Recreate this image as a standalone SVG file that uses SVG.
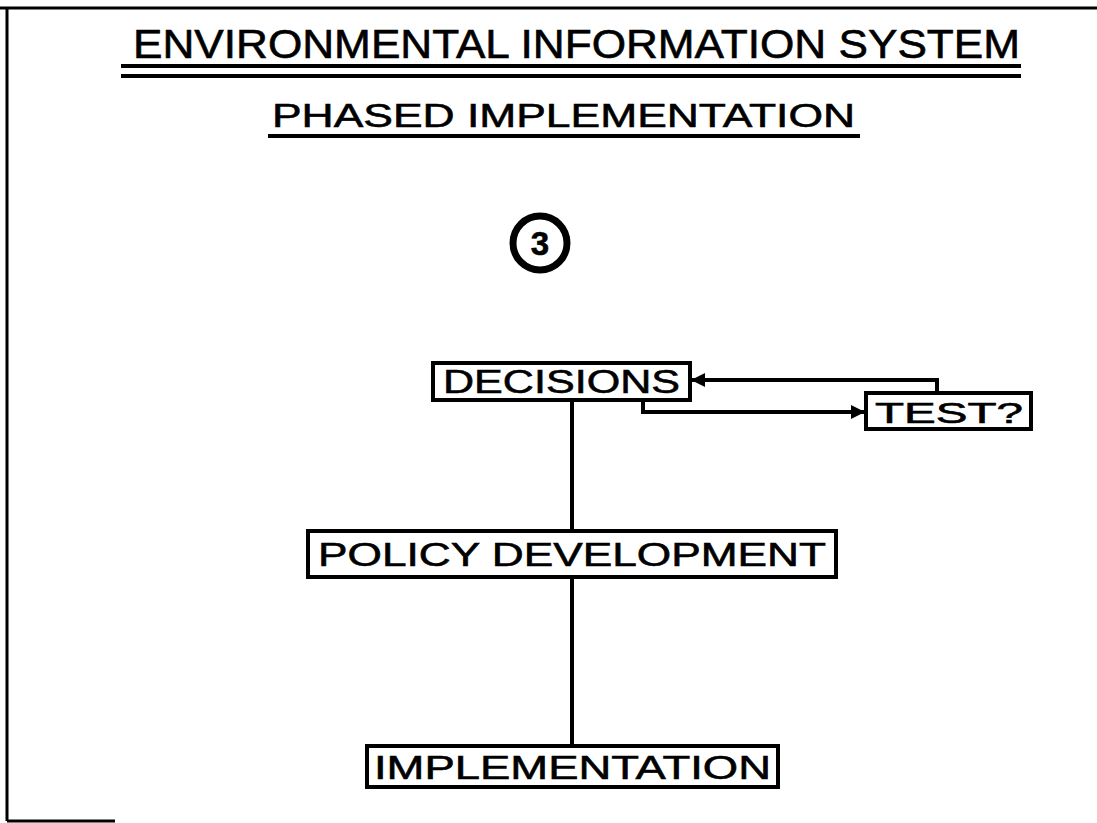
<svg xmlns="http://www.w3.org/2000/svg" width="1097" height="823" viewBox="0 0 1097 823">
  <style>
    .t { font-family: "Liberation Sans", "DejaVu Sans", sans-serif; fill: #000; stroke: #000; stroke-width: 0.6; }
    .box { fill: #fff; stroke: #000; stroke-width: 4; }
    .edge { fill: none; stroke: #000; stroke-width: 4; }
    .rule { stroke: #000; stroke-width: 4; }
  </style>
  <defs>
    <marker id="arrow" viewBox="0 0 14 14" refX="13" refY="7" markerWidth="14" markerHeight="14" markerUnits="userSpaceOnUse" orient="auto">
      <path d="M0,0 L14,7 L0,14 Z" fill="#000"/>
    </marker>
  </defs>
  <rect width="1097" height="823" fill="#fff"/>

  <!-- page frame -->
  <g id="frame" fill="none" stroke="#000" stroke-width="3">
    <path d="M0,8 H1097"/>
    <path d="M7,8 V821"/>
    <path d="M7,821 H115"/>
  </g>

  <!-- headings -->
  <g id="title">
    <text class="t" x="133" y="58" font-size="40" textLength="887" lengthAdjust="spacingAndGlyphs">ENVIRONMENTAL INFORMATION SYSTEM</text>
    <line class="rule" x1="121" y1="66" x2="1021" y2="66"/>
    <line class="rule" x1="121" y1="76" x2="1021" y2="76"/>
  </g>
  <g id="subtitle">
    <text class="t" x="272" y="127" font-size="34" textLength="583" lengthAdjust="spacingAndGlyphs">PHASED IMPLEMENTATION</text>
    <line class="rule" x1="268" y1="136" x2="860" y2="136"/>
  </g>
  <g id="phase-number">
    <circle cx="540" cy="243" r="27" fill="none" stroke="#000" stroke-width="7"/>
    <text class="t" x="540" y="255" font-size="33" font-weight="bold" text-anchor="middle">3</text>
  </g>

  <!-- connectors -->
  <g id="connectors">
    <path class="edge" d="M572,400 V530"/>
    <path class="edge" d="M572,577 V745"/>
    <path class="edge" d="M643,400 V412 H864" marker-end="url(#arrow)"/>
    <path class="edge" d="M937,393 V380 H692" marker-end="url(#arrow)"/>
  </g>

  <!-- nodes -->
  <g id="decisions">
    <rect class="box" x="433" y="363" width="257" height="37"/>
    <text class="t" x="443" y="393" font-size="34" textLength="237" lengthAdjust="spacingAndGlyphs">DECISIONS</text>
  </g>
  <g id="test">
    <rect class="box" x="866" y="393" width="165" height="36"/>
    <text class="t" x="875" y="423" font-size="29" textLength="148" lengthAdjust="spacingAndGlyphs">TEST?</text>
  </g>
  <g id="policy-development">
    <rect class="box" x="308" y="531" width="528" height="46"/>
    <text class="t" x="318" y="566" font-size="34" textLength="508" lengthAdjust="spacingAndGlyphs">POLICY DEVELOPMENT</text>
  </g>
  <g id="implementation">
    <rect class="box" x="367" y="746" width="411" height="41"/>
    <text class="t" x="374" y="779" font-size="34" textLength="397" lengthAdjust="spacingAndGlyphs">IMPLEMENTATION</text>
  </g>
</svg>
